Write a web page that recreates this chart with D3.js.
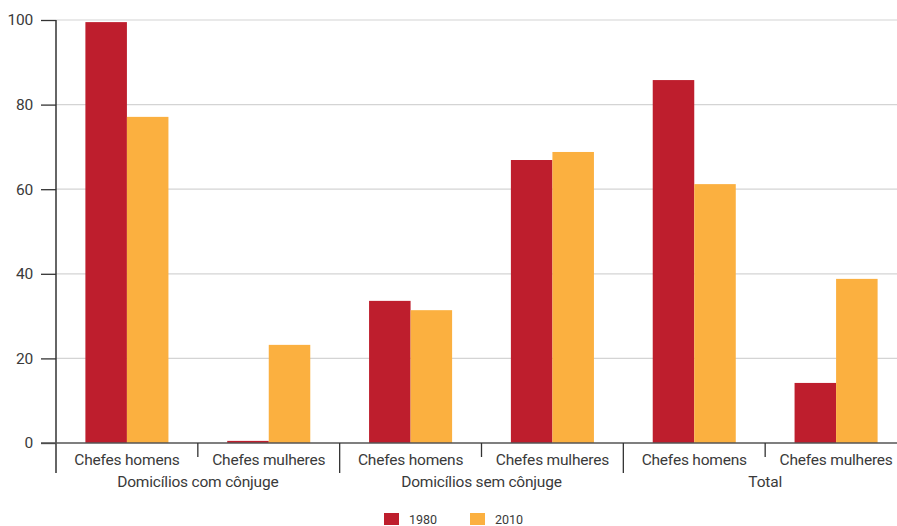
<!DOCTYPE html>
<html>
<head>
<meta charset="utf-8">
<script src="https://cdn.jsdelivr.net/npm/d3@7"></script>
<style>
  html, body { margin: 0; padding: 0; background: #fff; }
  svg { display: block; }
  text { font-family: Roboto, "Open Sans", sans-serif; fill: #3a3a3a; }
</style>
</head>
<body>
<svg id="chart" width="897" height="526"></svg>
<script>
// Data
const groups = ["Domicílios com cônjuge", "Domicílios sem cônjuge", "Total"];
const subcats = ["Chefes homens", "Chefes mulheres"];
const series = ["1980", "2010"];
const values1980 = [99.5, 0.5, 33.6, 66.9, 85.8, 14.2];
const values2010 = [77.1, 23.2, 31.4, 68.8, 61.2, 38.8];
const yTicks = [0, 20, 40, 60, 80, 100];
const colors = ["#BE1E2D", "#FBB040"];

const categories = [];
groups.forEach((g, gi) => subcats.forEach((s, si) => categories.push({ id: gi + "-" + si, group: g, label: s, gi })));
const rows = categories.map((c, i) => ({ ...c, values: [values1980[i], values2010[i]] }));

const svg = d3.select("#chart");
const mLeft = 56, mRight = 907, mTop = 20, mBottom = 443;
const fs = 15.5, ls = -0.2;

const x0 = d3.scaleBand().domain(categories.map(c => c.id)).range([mLeft, mRight]).padding(0);
const x1 = d3.scaleBand().domain(series).range([0, x0.bandwidth()]).paddingInner(0).paddingOuter(0.708);
const y = d3.scaleLinear().domain([0, 100]).range([mBottom, mTop]);

// gridlines
svg.append("g").selectAll("line").data(yTicks.filter(t => t > 0)).join("line")
  .attr("x1", mLeft).attr("x2", 897)
  .attr("y1", d => y(d)).attr("y2", d => y(d))
  .attr("stroke", "#d4d4d4").attr("stroke-width", 1.2);

// bars
const bg = svg.append("g").selectAll("g").data(rows).join("g")
  .attr("transform", d => `translate(${x0(d.id)},0)`);
bg.selectAll("rect").data(d => d.values.map((v, i) => ({ v, s: series[i], i }))).join("rect")
  .attr("x", d => x1(d.s)).attr("width", x1.bandwidth())
  .attr("y", d => y(d.v)).attr("height", d => y(0) - y(d.v))
  .attr("fill", d => colors[d.i]);

// y axis
const yAxis = svg.append("g").attr("transform", `translate(${mLeft},0)`)
  .call(d3.axisLeft(y).tickValues(yTicks).tickSize(15).tickPadding(8).tickFormat(d3.format("d")));
yAxis.select(".domain").remove();
yAxis.selectAll(".tick line").attr("stroke", "#333").attr("stroke-width", 1.3);
yAxis.selectAll("text").attr("font-size", fs).attr("letter-spacing", ls).attr("fill", "#3a3a3a").attr("font-family", "Roboto, sans-serif");
svg.append("line").attr("x1", mLeft).attr("x2", mLeft).attr("y1", mTop).attr("y2", 473)
  .attr("stroke", "#333").attr("stroke-width", 1.5);

// zero baseline
svg.append("line").attr("x1", mLeft - 15).attr("x2", 897).attr("y1", y(0)).attr("y2", y(0))
  .attr("stroke", "#555").attr("stroke-width", 1.5);

// x axis (subcategory labels)
const xAxis = svg.append("g").attr("transform", `translate(0,${mBottom})`)
  .call(d3.axisBottom(x0).tickSize(0).tickPadding(11).tickFormat(id => categories.find(c => c.id === id).label));
xAxis.select(".domain").remove();
xAxis.selectAll("text").attr("font-size", fs).attr("letter-spacing", ls).attr("fill", "#3a3a3a").attr("font-family", "Roboto, sans-serif");

// separators
categories.forEach((c, i) => {
  if (i === 0) return;
  const xp = x0(c.id);
  const major = (i % subcats.length) === 0;
  svg.append("line").attr("x1", xp).attr("x2", xp)
    .attr("y1", mBottom).attr("y2", major ? 473 : 457)
    .attr("stroke", "#333").attr("stroke-width", 1.3);
});

// group labels
groups.forEach((g, gi) => {
  const ids = categories.filter(c => c.gi === gi).map(c => c.id);
  const xs = x0(ids[0]);
  const xe = x0(ids[ids.length - 1]) + x0.bandwidth();
  svg.append("text").attr("x", (xs + xe) / 2).attr("y", 487)
    .attr("text-anchor", "middle").attr("font-size", fs).attr("letter-spacing", ls).text(g);
});

// legend
const legend = svg.append("g");
const legX = [384, 470];
series.forEach((s, i) => {
  legend.append("rect").attr("x", legX[i]).attr("y", 513).attr("width", 15).attr("height", 12).attr("fill", colors[i]);
  legend.append("text").attr("x", legX[i] + 25).attr("y", 523.5).attr("font-size", 12.5).text(s);
});
</script>
</body>
</html>
